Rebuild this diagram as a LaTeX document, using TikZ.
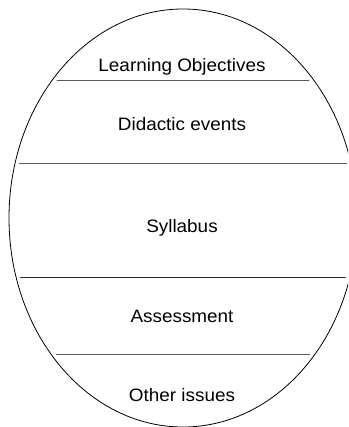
\documentclass[tikz,border=0pt]{standalone}
\usepackage{fontspec}
\setmainfont{Liberation Sans}
\tikzset{
  shell/.style={draw=black, line width=0.8pt},
  divider/.style={draw=black!65, line width=0.9pt},
  layer/.style={anchor=base, inner sep=0pt, xscale=1.05, font=\fontsize{18}{20}\selectfont}
}

\begin{document}
\begin{tikzpicture}[x=1pt, y=-1pt]
  \useasboundingbox (0,0) rectangle (348,427);
  \clip (0,0) rectangle (348,427);
  % the outer shell
  \draw[shell] (183,218) ellipse [x radius=174, y radius=209];
  % horizontal cuts, kept inside the shell
  \begin{scope}
    \clip (183,218) ellipse [x radius=170, y radius=205];
    \draw[divider] (0,80) -- (348,80);
    \draw[divider] (0,163) -- (348,163);
    \draw[divider, draw=black!85] (0,277) -- (348,277);
    \draw[divider] (0,354) -- (348,354);
  \end{scope}
  \node[layer] (lo)  at (182,72)  {Learning Objectives};
  \node[layer] (de)  at (182,131) {Didactic events};
  \node[layer] (syl) at (182,232) {Syllabus};
  \node[layer] (ass) at (182,322) {Assessment};
  \node[layer] (oth) at (182,401) {Other issues};
\end{tikzpicture}
\end{document}
